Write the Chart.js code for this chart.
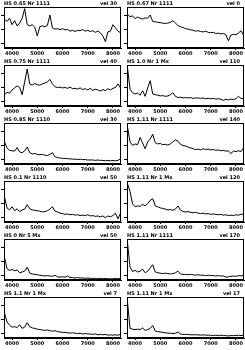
<!DOCTYPE html>
<html>
<head>
<meta charset="utf-8">
<script src="https://cdn.jsdelivr.net/npm/chart.js@4.4.1/dist/chart.umd.min.js"></script>
<style>
  body { margin: 0; background: #fff; }
  #grid { position: relative; width: 245px; height: 350px; }
  #grid canvas { position: absolute; }
</style>
</head>
<body>
<div id="grid"></div>
<script>
// wavelength grid (Angstrom)
const wave = [3700, 3800, 3900, 4000, 4100, 4200, 4300, 4400, 4500, 4600,
  4700, 4800, 4900, 5000, 5100, 5200, 5300, 5400, 5500, 5600,
  5700, 5800, 5900, 6000, 6100, 6200, 6300, 6400, 6500, 6600,
  6700, 6800, 6900, 7000, 7100, 7200, 7300, 7400, 7500, 7600,
  7700, 7800, 7900, 8000, 8100, 8200, 8300];

const xTicks = [4000, 5000, 6000, 7000, 8000];
const yTicks = [0.1, 0.45, 0.8];

const names = ['HS 0.65 Nr 1111', 'HS 0.67 Nr 1111', 'HS 0.75 Nr 1111', 'HS 1.0 Nr 1 Mx',
  'HS 0.85 Nr 1110', 'HS 1.11 Nr 1111', 'HS 0.1 Nr 1110', 'HS 1.11 Nr 1 Mx',
  'HS 0 Nr 5 Mx', 'HS 1.11 Nr 1111', 'HS 1.1 Nr 1 Mx', 'HS 1.11 Nr 1 Mx'];
const vels = ['vel 30', 'vel 0', 'vel 40', 'vel 110', 'vel 30', 'vel 140',
  'vel 50', 'vel 120', 'vel 50', 'vel 170', 'vel 7', 'vel 17'];

// normalised flux, one list per panel (row by row, left then right)
const flux01 = [0.72, 0.66, 0.74, 0.58, 0.68, 0.55, 0.62, 0.74, 0.98, 0.58, 0.55, 0.58, 0.52, 0.30, 0.53, 0.55, 0.53, 0.56, 0.82, 0.50,
  0.47, 0.48, 0.46, 0.48, 0.45, 0.46, 0.42, 0.44, 0.41, 0.44, 0.43, 0.46, 0.42, 0.44, 0.41, 0.43, 0.39, 0.42, 0.38, 0.30,
  0.16, 0.40, 0.42, 0.58, 0.50, 0.42, 0.38];
const flux02 = [0.84, 0.78, 0.80, 0.73, 0.77, 0.74, 0.72, 0.75, 0.74, 0.82, 0.66, 0.65, 0.64, 0.63, 0.62, 0.61, 0.62, 0.64, 0.68, 0.62,
  0.56, 0.53, 0.51, 0.48, 0.47, 0.45, 0.44, 0.42, 0.43, 0.41, 0.40, 0.42, 0.39, 0.38, 0.39, 0.36, 0.37, 0.35, 0.36, 0.33,
  0.18, 0.32, 0.34, 0.33, 0.37, 0.43, 0.32];
const flux03 = [0.28, 0.34, 0.32, 0.40, 0.45, 0.50, 0.46, 0.28, 0.60, 0.92, 0.55, 0.52, 0.56, 0.53, 0.52, 0.55, 0.57, 0.60, 0.66, 0.55,
  0.48, 0.46, 0.47, 0.45, 0.46, 0.44, 0.47, 0.43, 0.44, 0.42, 0.45, 0.41, 0.43, 0.40, 0.44, 0.39, 0.42, 0.40, 0.37, 0.41,
  0.38, 0.43, 0.40, 0.44, 0.46, 0.55, 0.45];
const flux04 = [0.95, 0.42, 0.33, 0.30, 0.32, 0.27, 0.38, 0.24, 0.45, 0.63, 0.30, 0.28, 0.27, 0.25, 0.26, 0.24, 0.25, 0.28, 0.33, 0.24,
  0.21, 0.22, 0.20, 0.21, 0.20, 0.21, 0.19, 0.20, 0.20, 0.19, 0.20, 0.18, 0.19, 0.18, 0.19, 0.17, 0.18, 0.17, 0.14, 0.17,
  0.15, 0.17, 0.16, 0.18, 0.24, 0.19, 0.18];
const flux05 = [0.55, 0.40, 0.34, 0.33, 0.32, 0.41, 0.30, 0.28, 0.33, 0.42, 0.28, 0.25, 0.26, 0.24, 0.23, 0.24, 0.22, 0.21, 0.24, 0.28,
  0.18, 0.16, 0.15, 0.14, 0.14, 0.13, 0.13, 0.12, 0.12, 0.11, 0.12, 0.11, 0.11, 0.10, 0.10, 0.10, 0.09, 0.10, 0.09, 0.09,
  0.08, 0.09, 0.08, 0.09, 0.08, 0.09, 0.13];
const flux06 = [0.92, 0.55, 0.46, 0.50, 0.48, 0.66, 0.52, 0.38, 0.55, 0.62, 0.74, 0.53, 0.50, 0.51, 0.48, 0.49, 0.47, 0.50, 0.55, 0.60,
  0.57, 0.49, 0.46, 0.45, 0.42, 0.40, 0.38, 0.36, 0.37, 0.35, 0.38, 0.36, 0.37, 0.35, 0.36, 0.34, 0.35, 0.33, 0.34, 0.32,
  0.33, 0.26, 0.32, 0.31, 0.33, 0.31, 0.40];
const flux07 = [0.62, 0.35, 0.30, 0.38, 0.28, 0.33, 0.26, 0.30, 0.32, 0.43, 0.33, 0.30, 0.29, 0.28, 0.27, 0.25, 0.26, 0.28, 0.32, 0.38,
  0.27, 0.25, 0.22, 0.21, 0.19, 0.20, 0.18, 0.19, 0.17, 0.18, 0.16, 0.17, 0.16, 0.18, 0.15, 0.16, 0.14, 0.15, 0.13, 0.15,
  0.11, 0.15, 0.13, 0.16, 0.22, 0.08, 0.22];
const flux08 = [0.95, 0.76, 0.45, 0.38, 0.40, 0.39, 0.44, 0.40, 0.46, 0.54, 0.58, 0.40, 0.38, 0.35, 0.34, 0.32, 0.30, 0.31, 0.29, 0.32,
  0.40, 0.30, 0.26, 0.25, 0.26, 0.24, 0.23, 0.24, 0.22, 0.21, 0.22, 0.20, 0.21, 0.19, 0.20, 0.19, 0.18, 0.19, 0.17, 0.18,
  0.16, 0.17, 0.16, 0.18, 0.17, 0.19, 0.20];
const flux09 = [0.56, 0.28, 0.24, 0.26, 0.23, 0.25, 0.18, 0.20, 0.22, 0.32, 0.17, 0.15, 0.14, 0.13, 0.12, 0.11, 0.10, 0.11, 0.10, 0.09,
  0.12, 0.08, 0.07, 0.08, 0.07, 0.10, 0.06, 0.06, 0.05, 0.06, 0.05, 0.05, 0.04, 0.05, 0.04, 0.04, 0.04, 0.03, 0.04, 0.03,
  0.04, 0.03, 0.03, 0.03, 0.04, 0.03, 0.04];
const flux10 = [0.93, 0.32, 0.21, 0.24, 0.20, 0.22, 0.27, 0.18, 0.22, 0.30, 0.38, 0.20, 0.18, 0.17, 0.16, 0.17, 0.16, 0.15, 0.16, 0.18,
  0.22, 0.15, 0.14, 0.14, 0.13, 0.14, 0.13, 0.12, 0.13, 0.12, 0.12, 0.11, 0.12, 0.11, 0.11, 0.10, 0.11, 0.10, 0.10, 0.07,
  0.08, 0.09, 0.10, 0.09, 0.11, 0.10, 0.12];
const flux11 = [0.62, 0.40, 0.32, 0.27, 0.28, 0.26, 0.33, 0.24, 0.27, 0.38, 0.28, 0.25, 0.24, 0.22, 0.21, 0.20, 0.19, 0.20, 0.18, 0.17,
  0.18, 0.16, 0.15, 0.14, 0.14, 0.13, 0.12, 0.13, 0.12, 0.11, 0.12, 0.10, 0.11, 0.10, 0.10, 0.09, 0.10, 0.08, 0.09, 0.08,
  0.09, 0.07, 0.08, 0.07, 0.08, 0.07, 0.09];
const flux12 = [0.90, 0.24, 0.22, 0.21, 0.22, 0.21, 0.25, 0.19, 0.21, 0.24, 0.31, 0.17, 0.16, 0.15, 0.14, 0.13, 0.12, 0.12, 0.11, 0.12,
  0.15, 0.10, 0.09, 0.09, 0.09, 0.08, 0.08, 0.08, 0.08, 0.07, 0.08, 0.07, 0.07, 0.07, 0.06, 0.07, 0.06, 0.07, 0.06, 0.06,
  0.05, 0.06, 0.06, 0.06, 0.07, 0.06, 0.07];

const panels = [flux01, flux02, flux03, flux04, flux05, flux06,
  flux07, flux08, flux09, flux10, flux11, flux12];

const tinyFont = { family: 'DejaVu Sans', size: 5, weight: 'bold' };

// header text + closed frame round the plot area
const framePlugin = {
  id: 'frame',
  afterDraw(chart, args, opts) {
    const ctx = chart.ctx;
    const a = chart.chartArea;
    ctx.save();
    ctx.strokeStyle = '#000';
    ctx.lineWidth = 1;
    ctx.strokeRect(a.left + 0.5, a.top + 0.5, a.right - a.left - 1, a.bottom - a.top - 1);
    ctx.fillStyle = '#000';
    ctx.font = 'bold 5px "DejaVu Sans"';
    ctx.textBaseline = 'top';
    ctx.textAlign = 'left';
    ctx.fillText(opts.left, a.left, 1);
    ctx.textAlign = 'right';
    ctx.fillText(opts.right, a.right - 4, 1);
    ctx.restore();
  }
};

const grid = document.getElementById('grid');

panels.forEach(function(flux, i) {
  const col = i % 2;
  const row = Math.floor(i / 2);
  const cv = document.createElement('canvas');
  cv.width = col === 0 ? 122 : 123;
  cv.height = 58;
  cv.style.left = (col === 0 ? 0 : 122) + 'px';
  cv.style.top = (row * 58) + 'px';
  grid.appendChild(cv);

  const pts = wave.map(function(w, k) { return { x: w, y: flux[k] }; });

  new Chart(cv, {
    type: 'line',
    data: {
      datasets: [{
        data: pts,
        borderColor: '#000',
        borderWidth: 1,
        pointRadius: 0,
        tension: 0,
        fill: false
      }]
    },
    plugins: [framePlugin],
    options: {
      responsive: false,
      animation: false,
      devicePixelRatio: 1,
      layout: { padding: { top: 7, right: 1, left: col === 0 ? 1 : 2, bottom: 0 } },
      plugins: {
        legend: { display: false },
        tooltip: { enabled: false },
        frame: { left: names[i], right: vels[i] }
      },
      scales: {
        x: {
          type: 'linear',
          min: 3680,
          max: 8320,
          afterBuildTicks: function(axis) {
            axis.ticks = xTicks.map(function(v) { return { value: v }; });
          },
          grid: { drawOnChartArea: false, tickLength: 2, color: '#000' },
          border: { color: '#000' },
          ticks: { color: '#000', font: tinyFont, padding: 1, maxRotation: 0,
            callback: function(v) { return String(v); } }
        },
        y: {
          min: 0,
          max: 1.02,
          afterBuildTicks: function(axis) {
            axis.ticks = yTicks.map(function(v) { return { value: v }; });
          },
          grid: { drawOnChartArea: false, tickLength: 3, color: '#000' },
          border: { color: '#000' },
          ticks: { display: false }
        }
      }
    }
  });
});
</script>
</body>
</html>
